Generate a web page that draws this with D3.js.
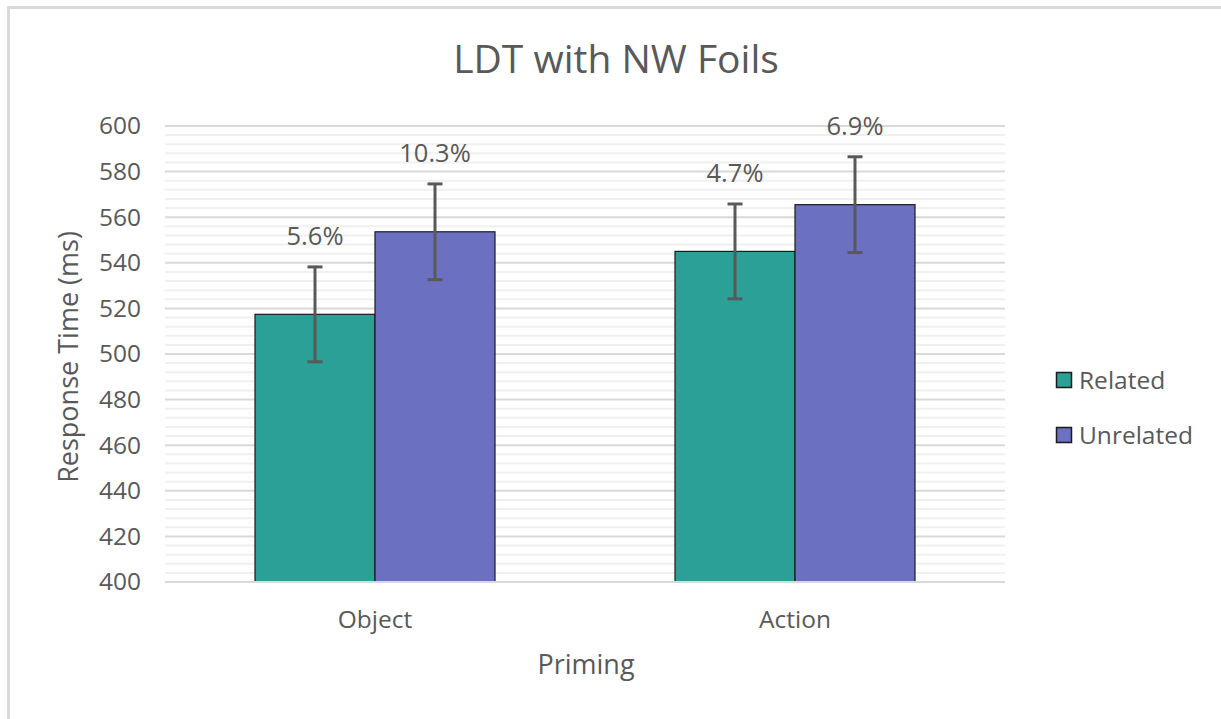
<!DOCTYPE html>
<html>
<head>
<meta charset="utf-8">
<script src="https://cdn.jsdelivr.net/npm/d3@7"></script>
<style>
  html, body { margin: 0; padding: 0; background: #fff; }
  svg { display: block; font-family: "Open Sans", "Noto Sans", sans-serif; }
</style>
</head>
<body>
<svg id="chart" width="1221" height="719"></svg>
<script>
const categories = ["Object", "Action"];
const seriesNames = ["Related", "Unrelated"];
const relatedValues = [517.4, 545.0];
const unrelatedValues = [553.6, 565.5];
const relatedErrors = [20.8, 20.8];
const unrelatedErrors = [21.0, 21.0];
const relatedLabels = ["5.6%", "4.7%"];
const unrelatedLabels = ["10.3%", "6.9%"];
const yTicks = [400, 420, 440, 460, 480, 500, 520, 540, 560, 580, 600];
const yMinorTicks = d3.range(400, 601, 4);

const colors = { Related: "#2aa096", Unrelated: "#6b70c1" };
const textColor = "#595959";

const rows = [];
categories.forEach((c, i) => {
  rows.push({ cat: c, series: "Related", value: relatedValues[i], err: relatedErrors[i], label: relatedLabels[i] });
  rows.push({ cat: c, series: "Unrelated", value: unrelatedValues[i], err: unrelatedErrors[i], label: unrelatedLabels[i] });
});

const svg = d3.select("#chart");

// outer chart border
svg.append("rect")
  .attr("x", 8.5).attr("y", 7.5)
  .attr("width", 1240).attr("height", 740)
  .attr("fill", "#fff")
  .attr("stroke", "#d9d9d9").attr("stroke-width", 3);

const plotL = 165, plotR = 1005, plotT = 126, plotB = 582;

const x0 = d3.scaleBand().domain(categories).range([plotL, plotR]).padding(0);
const x1 = d3.scaleBand().domain(seriesNames).range([0, x0.bandwidth()]).paddingInner(0).paddingOuter(0.75);
const y = d3.scaleLinear().domain([400, 600]).range([plotB, plotT]);

// minor gridlines
svg.append("g").selectAll("line")
  .data(yMinorTicks.filter(v => v % 20 !== 0))
  .join("line")
  .attr("x1", plotL).attr("x2", plotR)
  .attr("y1", d => y(d)).attr("y2", d => y(d))
  .attr("stroke", "#f0f0f0").attr("stroke-width", 2);

// major gridlines
svg.append("g").selectAll("line")
  .data(yTicks)
  .join("line")
  .attr("x1", plotL).attr("x2", plotR)
  .attr("y1", d => y(d)).attr("y2", d => y(d))
  .attr("stroke", "#d9d9d9").attr("stroke-width", 2);

// y axis labels
const yAxis = d3.axisLeft(y).tickValues(yTicks).tickSize(0).tickPadding(24);
const yg = svg.append("g").attr("transform", `translate(${plotL},0)`).call(yAxis);
yg.select(".domain").remove();
yg.selectAll("text")
  .attr("fill", textColor)
  .style("font-size", "24.5px")
  .style("font-family", "'Open Sans', sans-serif");

// bars
svg.append("g").selectAll("rect")
  .data(rows)
  .join("rect")
  .attr("x", d => x0(d.cat) + x1(d.series))
  .attr("y", d => y(d.value))
  .attr("width", x1.bandwidth())
  .attr("height", d => y(400) - y(d.value))
  .attr("fill", d => colors[d.series])
  .attr("stroke", "#1a1a1a").attr("stroke-width", 1.2);

// error bars
const eg = svg.append("g").attr("stroke", "#595959").attr("stroke-width", 3);
rows.forEach(d => {
  const cx = x0(d.cat) + x1(d.series) + x1.bandwidth() / 2;
  eg.append("line").attr("x1", cx).attr("x2", cx).attr("y1", y(d.value + d.err)).attr("y2", y(d.value - d.err));
  eg.append("line").attr("x1", cx - 7.5).attr("x2", cx + 7.5).attr("y1", y(d.value + d.err)).attr("y2", y(d.value + d.err));
  eg.append("line").attr("x1", cx - 7.5).attr("x2", cx + 7.5).attr("y1", y(d.value - d.err)).attr("y2", y(d.value - d.err));
});

// data labels
svg.append("g").selectAll("text")
  .data(rows)
  .join("text")
  .attr("x", d => x0(d.cat) + x1(d.series) + x1.bandwidth() / 2)
  .attr("y", d => y(d.value + d.err) - 22)
  .attr("text-anchor", "middle")
  .attr("fill", textColor)
  .style("font-size", "25.5px")
  .text(d => d.label);

// x axis category labels
const xAxis = d3.axisBottom(x0).tickSize(0).tickPadding(29);
const xg = svg.append("g").attr("transform", `translate(0,${plotB})`).call(xAxis);
xg.select(".domain").remove();
xg.selectAll("text")
  .attr("fill", textColor)
  .style("font-size", "24.5px")
  .style("font-family", "'Open Sans', sans-serif");

// baseline
svg.append("line")
  .attr("x1", plotL).attr("x2", plotR)
  .attr("y1", y(400)).attr("y2", y(400))
  .attr("stroke", "#d9d9d9").attr("stroke-width", 2);

// title
svg.append("text")
  .attr("x", 616).attr("y", 73)
  .attr("text-anchor", "middle")
  .attr("fill", textColor)
  .style("font-size", "39px")
  .text("LDT with NW Foils");

// axis titles
svg.append("text")
  .attr("x", 586).attr("y", 674)
  .attr("text-anchor", "middle")
  .attr("fill", textColor)
  .style("font-size", "27px")
  .text("Priming");

svg.append("text")
  .attr("transform", `translate(78, 357) rotate(-90)`)
  .attr("text-anchor", "middle")
  .attr("fill", textColor)
  .style("font-size", "27px")
  .text("Response Time (ms)");

// legend
const lg = svg.append("g");
seriesNames.forEach((s, i) => {
  const ly = 372 + i * 55;
  lg.append("rect")
    .attr("x", 1056.5).attr("y", ly + 0.5)
    .attr("width", 15).attr("height", 15)
    .attr("fill", colors[s])
    .attr("stroke", "#1a1a1a").attr("stroke-width", 1.5);
  lg.append("text")
    .attr("x", 1079).attr("y", ly + 17)
    .attr("fill", textColor)
    .style("font-size", "24.5px")
    .text(s);
});
</script>
</body>
</html>
